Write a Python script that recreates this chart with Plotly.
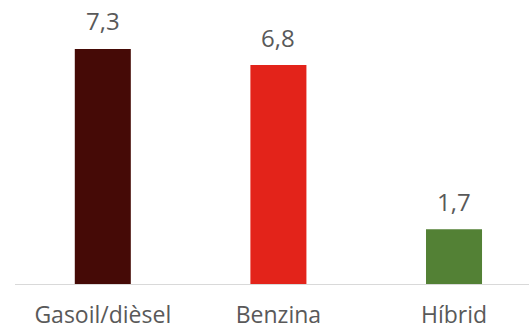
import plotly.graph_objects as go

categories = ["Gasoil/dièsel", "Benzina", "Híbrid"]
values = [7.3, 6.8, 1.7]
colors = ["#450A06", "#E3231A", "#538135"]

fig = go.Figure()
fig.add_trace(go.Bar(
    x=categories, y=values,
    marker=dict(color=colors, line=dict(width=0)),
    hoverinfo="skip",
))

for c, v in zip(categories, values):
    fig.add_annotation(
        x=c, y=v, text=f"{v:.1f}".replace(".", ","),
        showarrow=False, yanchor="middle", yshift=28,
        font=dict(family="Open Sans", size=24, color="#595959"),
    )

fig.update_layout(
    width=529, height=331,
    margin=dict(l=15, r=0, t=10, b=47),
    paper_bgcolor="white", plot_bgcolor="white",
    bargap=0.681,
    showlegend=False,
    xaxis=dict(
        range=[-0.5, 2.427], automargin=False,
        showline=True, linecolor="#D9D9D9", linewidth=1,
        showgrid=False, zeroline=False, ticks="",
        tickfont=dict(family="Open Sans", size=23, color="#595959"),
        ticklabelstandoff=10,
    ),
    yaxis=dict(
        range=[0, 8.51], visible=False, showgrid=False, zeroline=False,
        automargin=False,
    ),
)

fig.write_html(
    "out.html",
    config={"displayModeBar": False},
    post_script="document.body.style.margin='0';document.body.style.overflow='hidden';",
)
